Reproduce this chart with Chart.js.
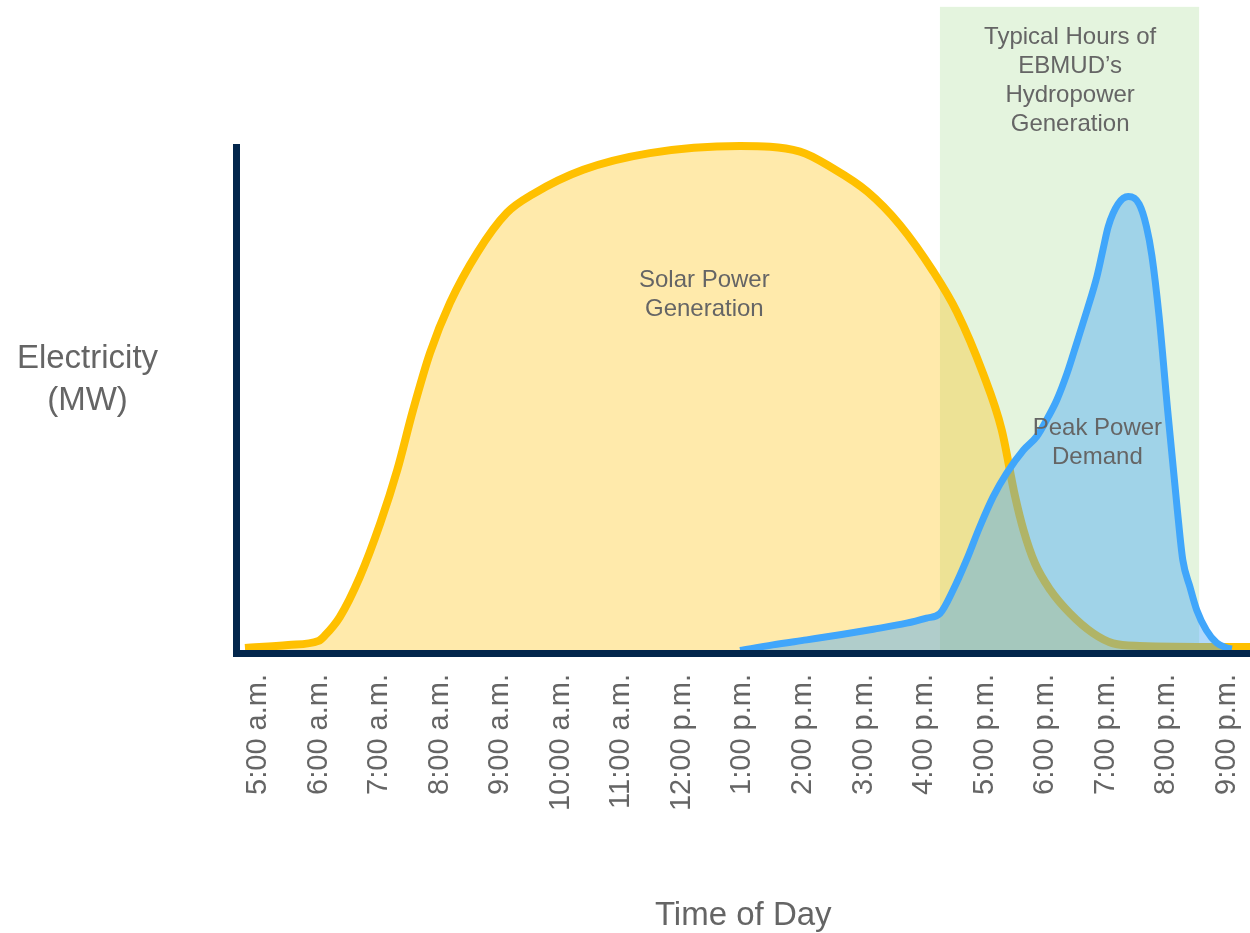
<!DOCTYPE html>
<html>
<head>
<meta charset="utf-8">
<title>Solar Power Generation and Peak Power Demand</title>
<script src="https://cdn.jsdelivr.net/npm/chart.js@4.4.1/dist/chart.umd.min.js"></script>
<style>
  html, body { margin: 0; padding: 0; background: #ffffff; }
  #wrap { width: 1250px; height: 933px; }
</style>
</head>
<body>
<div id="wrap"><canvas id="chart" width="1250" height="933"></canvas></div>
<script>
// Hour-of-day ticks (24h clock) and their labels
const hourTicks = [5, 6, 7, 8, 9, 10, 11, 12, 13, 14, 15, 16, 17, 18, 19, 20, 21];
const hourLabels = ['5:00 a.m.', '6:00 a.m.', '7:00 a.m.', '8:00 a.m.', '9:00 a.m.', '10:00 a.m.',
  '11:00 a.m.', '12:00 p.m.', '1:00 p.m.', '2:00 p.m.', '3:00 p.m.', '4:00 p.m.', '5:00 p.m.',
  '6:00 p.m.', '7:00 p.m.', '8:00 p.m.', '9:00 p.m.'];

// Solar power generation (relative MW)
const solarHours = [4.785, 5.5, 6.0, 6.1, 6.35, 6.68, 7.02, 7.30, 7.56, 7.84, 8.17, 8.62, 9.11, 9.54,
  10.37, 11.47, 12.96, 13.95, 14.49, 15.06, 15.60, 16.15, 16.54, 16.97, 17.28, 17.50, 17.64, 17.83,
  18.08, 18.41, 18.79, 19.12, 19.56, 20.93, 21.38];
const solarMW = [1.0, 1.6, 2.4, 3.4, 7.1, 15.0, 25.7, 36.2, 48.0, 59.3, 69.2, 79.1, 87.0, 90.7,
  95.5, 98.8, 100.2, 99.1, 95.8, 91.2, 84.6, 75.4, 67.4, 55.3, 44.1, 31.0, 24.3, 17.7,
  12.5, 7.8, 3.9, 1.9, 1.4, 1.2, 1.2];

// Power demand (relative MW)
const demandHours = [12.96, 13.5, 14.06, 14.61, 15.16, 15.71, 16.04, 16.26, 16.48, 16.70, 16.92,
  17.14, 17.36, 17.64, 17.86, 18.05, 18.19, 18.36, 18.52, 18.69, 18.85, 18.95, 19.04, 19.20, 19.37,
  19.55, 19.67, 19.76, 19.88, 20.02, 20.18, 20.27, 20.39, 20.50, 20.66, 20.83, 21.0, 21.08];
const demandMW = [0.5, 1.6, 2.6, 3.6, 4.7, 5.9, 6.9, 7.8, 12.5, 18.4, 25.0,
  30.9, 35.5, 40.1, 42.8, 46.7, 50.0, 55.3, 61.3, 67.8, 74.3, 79.6, 84.3, 88.7, 90.2,
  88.7, 84.3, 78.5, 66.4, 48.0, 28.3, 18.4, 13.0, 8.5, 4.5, 2.0, 1.0, 0.8];

// Typical hours of hydropower generation (start, end)
const hydroWindow = [16.26, 20.54];
const hydroTop = 127.7;

const TEXT = '#656565';
const FONT = "'Liberation Sans', Arial, sans-serif";

const toPoints = (xs, ys) => xs.map((x, i) => ({ x: x, y: ys[i] }));

// Shaded hydropower window behind the curves
const hydroBand = {
  id: 'hydroBand',
  beforeDatasetsDraw(chart) {
    const { ctx, scales: { x, y } } = chart;
    const x0 = x.getPixelForValue(hydroWindow[0]);
    const x1 = x.getPixelForValue(hydroWindow[1]);
    const y0 = y.getPixelForValue(hydroTop);
    const y1 = y.getPixelForValue(0);
    ctx.save();
    ctx.fillStyle = '#e4f4de';
    ctx.fillRect(x0, y0, x1 - x0, y1 - y0);
    ctx.restore();
  }
};

// Text callouts placed in data coordinates
const notes = [
  { lines: ['Typical Hours of', 'EBMUD\u2019s', 'Hydropower', 'Generation'], x: 18.41, y: 121.6 },
  { lines: ['Solar Power', 'Generation'], x: 12.37, y: 73.7 },
  { lines: ['Peak Power', 'Demand'], x: 18.86, y: 44.3 }
];

const callouts = {
  id: 'callouts',
  afterDatasetsDraw(chart) {
    const { ctx, chartArea, scales: { x, y } } = chart;
    ctx.save();
    ctx.fillStyle = TEXT;
    ctx.textAlign = 'center';
    ctx.textBaseline = 'middle';
    ctx.font = '24px ' + FONT;
    notes.forEach(n => {
      const px = x.getPixelForValue(n.x);
      const py = y.getPixelForValue(n.y);
      n.lines.forEach((line, i) => ctx.fillText(line, px, py + i * 29));
    });
    // Horizontal y-axis title
    ctx.font = '33px ' + FONT;
    const tx = chartArea.left - 149;
    const ty = y.getPixelForValue(58.1);
    ['Electricity', '(MW)'].forEach((line, i) => ctx.fillText(line, tx, ty + i * 42));
    ctx.restore();
  }
};

new Chart(document.getElementById('chart'), {
  type: 'line',
  data: {
    datasets: [
      {
        label: 'Solar Power Generation',
        data: toPoints(solarHours, solarMW),
        borderColor: '#ffc000',
        backgroundColor: 'rgba(255, 192, 0, 0.33)',
        borderWidth: 8,
        fill: 'origin',
        pointRadius: 0,
        cubicInterpolationMode: 'monotone',
        clip: false,
        order: 2
      },
      {
        label: 'Peak Power Demand',
        data: toPoints(demandHours, demandMW),
        borderColor: '#40a6fb',
        backgroundColor: 'rgba(66, 165, 245, 0.42)',
        borderWidth: 7,
        fill: 'origin',
        pointRadius: 0,
        cubicInterpolationMode: 'monotone',
        clip: false,
        order: 1
      }
    ]
  },
  options: {
    responsive: false,
    animation: false,
    devicePixelRatio: 1,
    layout: { padding: { left: 236.5, top: 147, right: 0, bottom: 0 } },
    plugins: {
      legend: { display: false },
      tooltip: { enabled: false }
    },
    scales: {
      x: {
        type: 'linear',
        min: 4.645,
        max: 21.38,
        grid: { display: false, drawTicks: false },
        border: { display: true, color: '#03264c', width: 7, z: 1 },
        afterBuildTicks(scale) {
          scale.ticks = hourTicks.map(v => ({ value: v }));
        },
        afterFit(scale) {
          scale.height = 280;
          scale.paddingLeft = 0;
          scale.paddingRight = 0;
        },
        ticks: {
          autoSkip: false,
          minRotation: 90,
          maxRotation: 90,
          padding: 21,
          color: TEXT,
          font: { family: FONT, size: 29 },
          callback(value) {
            const i = hourTicks.indexOf(value);
            return i >= 0 ? hourLabels[i] : '';
          }
        },
        title: {
          display: true,
          text: 'Time of Day',
          color: TEXT,
          font: { family: FONT, size: 33 },
          padding: { top: 0, bottom: -3 }
        }
      },
      y: {
        type: 'linear',
        min: 0,
        max: 100,
        grid: { display: false, drawTicks: false },
        border: { display: true, color: '#03264c', width: 7, z: 1 },
        ticks: { display: false }
      }
    }
  },
  plugins: [hydroBand, callouts]
});
</script>
</body>
</html>
